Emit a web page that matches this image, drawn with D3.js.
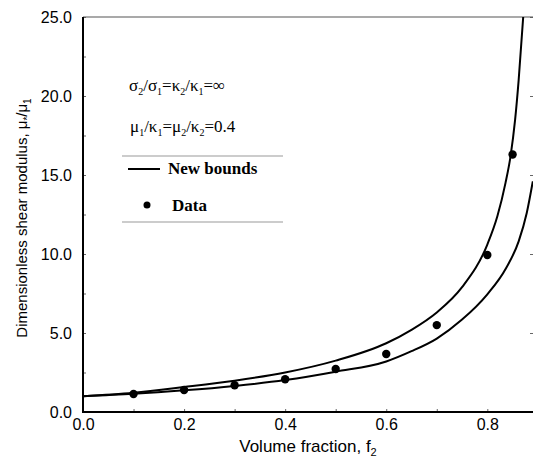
<!DOCTYPE html>
<html lang="en">
<head>
<meta charset="utf-8">
<title>Dimensionless shear modulus vs volume fraction</title>
<script src="https://cdn.jsdelivr.net/npm/d3@7"></script>
<style>
  body { margin: 0; background: #fff; }
  svg text { fill: #000; }
  .tick text { font-family: "Liberation Sans", Arial, sans-serif; font-size: 16px; }
  .tick line { stroke: #666; stroke-width: 1; }
  .domain { display: none; }
</style>
</head>
<body>
<div id="chart"></div>
<script>
// values
var upperF = [0, 0.1, 0.2, 0.3, 0.4, 0.5, 0.6, 0.65, 0.7, 0.75, 0.8, 0.82, 0.836, 0.846, 0.855, 0.862, 0.871];
var upperMu = [1.0, 1.22, 1.58, 1.98, 2.5, 3.25, 4.35, 5.2, 6.3, 7.9, 10.6, 12.4, 14.5, 16.2, 18.5, 21.0, 25.0];

var lowerF = [0, 0.1, 0.2, 0.3, 0.4, 0.5, 0.6, 0.65, 0.7, 0.75, 0.8, 0.837, 0.862, 0.878, 0.89];
var lowerMu = [1.0, 1.15, 1.37, 1.65, 2.02, 2.55, 3.2, 3.85, 4.65, 5.85, 7.45, 9.1, 10.8, 12.6, 14.6];

var dataF = [0.1, 0.2, 0.3, 0.4, 0.5, 0.6, 0.7, 0.8, 0.85];
var dataMu = [1.14, 1.39, 1.69, 2.07, 2.72, 3.67, 5.5, 9.94, 16.3];

var xTicks = [0, 0.2, 0.4, 0.6, 0.8];
var yTicks = [0, 5, 10, 15, 20, 25];

var w = 533, h = 458;

var svg = d3.select("#chart").append("svg")
  .attr("width", w)
  .attr("height", h);

var x = d3.scaleLinear().domain([0, 0.89]).range([83, 83 + 0.89 * 505.4]);
var y = d3.scaleLinear().domain([0, 25]).range([412, 17]);

// minor ticks inside the frame
svg.append("g")
  .attr("transform", "translate(83,0)")
  .call(d3.axisRight(y).tickValues(d3.range(0, 25.1, 2.5)).tickSize(3).tickFormat(""));
svg.append("g")
  .attr("transform", "translate(0,412)")
  .call(d3.axisTop(x).tickValues(d3.range(0, 0.89, 0.1)).tickSize(3).tickFormat(""));
svg.append("g")
  .attr("transform", "translate(533,0)")
  .call(d3.axisLeft(y).tickValues(yTicks).tickSize(3).tickFormat(""));

// labelled axes
svg.append("g")
  .attr("transform", "translate(83,0)")
  .call(d3.axisLeft(y).tickValues(yTicks).tickSize(0).tickPadding(11).tickFormat(d3.format(".1f")));
svg.append("g")
  .attr("transform", "translate(0,412)")
  .call(d3.axisBottom(x).tickValues(xTicks).tickSize(0).tickPadding(7).tickFormat(d3.format(".1f")));

// frame
svg.append("line")
  .attr("x1", 83).attr("x2", 533).attr("y1", 17).attr("y2", 17)
  .attr("stroke", "#555").attr("stroke-width", 1.2);
svg.append("line")
  .attr("x1", 83).attr("x2", 83).attr("y1", 17).attr("y2", 413)
  .attr("stroke", "#000").attr("stroke-width", 2);
svg.append("line")
  .attr("x1", 82).attr("x2", 533).attr("y1", 412).attr("y2", 412)
  .attr("stroke", "#000").attr("stroke-width", 2);

// bounds
var line = d3.line()
  .x(function(d){ return x(d[0]); })
  .y(function(d){ return y(d[1]); })
  .curve(d3.curveMonotoneX);

svg.append("defs").append("clipPath").attr("id", "clip")
  .append("rect").attr("x", 83).attr("y", 17).attr("width", 450).attr("height", 395);

[[upperF, upperMu], [lowerF, lowerMu]].forEach(function(s){
  svg.append("path")
    .datum(d3.zip(s[0], s[1]))
    .attr("clip-path", "url(#clip)")
    .attr("fill", "none")
    .attr("stroke", "#000")
    .attr("stroke-width", 2)
    .attr("d", line);
});

// data points
svg.selectAll(".pt")
  .data(d3.zip(dataF, dataMu))
  .enter()
  .append("circle")
  .attr("class", "pt")
  .attr("cx", function(d){ return x(d[0]); })
  .attr("cy", function(d){ return y(d[1]); })
  .attr("r", 4.2)
  .attr("fill", "#000");

// axis titles
var sans = "'Liberation Sans', Arial, sans-serif";
var xt = svg.append("text")
  .attr("x", 308).attr("y", 452)
  .attr("text-anchor", "middle")
  .attr("font-family", sans).attr("font-size", "17px");
xt.append("tspan").text("Volume fraction, f");
xt.append("tspan").attr("font-size", "11px").attr("dy", 4).text("2");

var yt = svg.append("text")
  .attr("transform", "translate(27,218) rotate(-90)")
  .attr("text-anchor", "middle")
  .attr("font-family", sans).attr("font-size", "15px");
yt.append("tspan").text("Dimensionless shear modulus, μ");
yt.append("tspan").attr("font-size", "10px").attr("dy", 4).text("*");
yt.append("tspan").attr("dy", -4).text("/μ");
yt.append("tspan").attr("font-size", "10px").attr("dy", 4).text("1");

// annotations
var serif = "'Liberation Serif', 'Times New Roman', serif";
function subText(xp, yp, parts){
  var t = svg.append("text").attr("x", xp).attr("y", yp)
    .attr("font-family", serif).attr("font-size", "17px");
  var down = false;
  parts.forEach(function(p){
    var isSub = p.charAt(0) === "_";
    var s = t.append("tspan").text(isSub ? p.slice(1) : p);
    if (isSub) { s.attr("font-size", "10px").attr("dy", down ? 0 : 4); down = true; }
    else if (down) { s.attr("dy", -4); down = false; }
  });
}
subText(129, 91, ["σ", "_2", "/σ", "_1", "=κ", "_2", "/κ", "_1", "=∞"]);
subText(130, 132, ["μ", "_1", "/κ", "_1", "=μ", "_2", "/κ", "_2", "=0.4"]);

// legend
svg.append("line").attr("x1", 122).attr("x2", 283).attr("y1", 156).attr("y2", 156)
  .attr("stroke", "#999").attr("stroke-width", 1);
svg.append("line").attr("x1", 122).attr("x2", 283).attr("y1", 222).attr("y2", 222)
  .attr("stroke", "#999").attr("stroke-width", 1);
svg.append("line").attr("x1", 128).attr("x2", 160).attr("y1", 169).attr("y2", 169)
  .attr("stroke", "#000").attr("stroke-width", 2);
svg.append("text").attr("x", 168).attr("y", 174)
  .attr("font-family", serif).attr("font-size", "17px").attr("font-weight", "bold")
  .text("New bounds");
svg.append("circle").attr("cx", 147).attr("cy", 205).attr("r", 3.5).attr("fill", "#000");
svg.append("text").attr("x", 172).attr("y", 211)
  .attr("font-family", serif).attr("font-size", "17px").attr("font-weight", "bold")
  .text("Data");
</script>
</body>
</html>
